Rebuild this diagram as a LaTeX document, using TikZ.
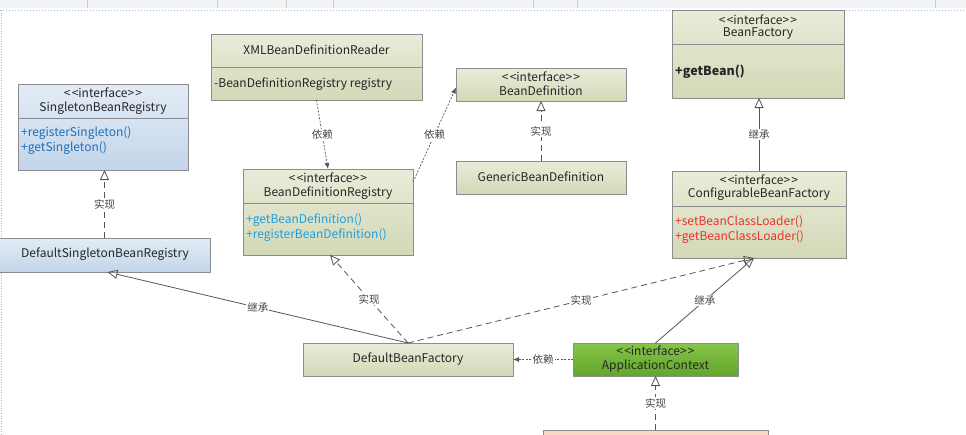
\documentclass[tikz,border=0pt]{standalone}
\usepackage{fontspec}
\setmainfont{Noto Sans CJK SC}
\usetikzlibrary{arrows.meta,calc}
\definecolor{olivetop}{HTML}{E9ECD9}
\definecolor{olivebot}{HTML}{D3D8B7}
\definecolor{bluetop}{HTML}{E3ECF6}
\definecolor{bluebot}{HTML}{C3D5EA}
\definecolor{greentop}{HTML}{86C548}
\definecolor{greenbot}{HTML}{62A62C}
\definecolor{salmon}{HTML}{F7D8C2}
\definecolor{boxline}{HTML}{8C8C8C}
\definecolor{conn}{HTML}{555555}
\definecolor{lbl}{HTML}{444444}
\definecolor{mblue}{HTML}{1F6FB8}
\definecolor{mcyan}{HTML}{1E9FE0}
\definecolor{mred}{HTML}{E8352A}
\definecolor{toolbar}{HTML}{F2F3F5}
\definecolor{dotblue}{HTML}{9DB8D8}
\newcommand{\stereo}{<\kern1.2pt<interface>\kern1.2pt>}
\begin{document}
\begin{tikzpicture}[x=1pt,y=-1pt,
  umlbox/.style={draw=boxline, line width=0.8pt, inner sep=0pt, outer sep=0pt, anchor=north west, top color=olivetop, bottom color=olivebot},
  bluebox/.style={umlbox, top color=bluetop, bottom color=bluebot},
  greenbox/.style={umlbox, top color=greentop, bottom color=greenbot},
  txt/.style={inner sep=0pt, font=\fontsize{12}{14}\selectfont, text=black!85},
  mtxt/.style={txt, anchor=west},
  divider/.style={draw=boxline, line width=0.8pt},
  lab/.style={fill=white, inner sep=1pt, font=\fontsize{10.5}{12}\selectfont, text=lbl},
  inherit/.style={draw=conn, line width=0.8pt, -{Triangle[open, length=10pt, width=9pt]}},
  realize/.style={inherit, dash pattern=on 6pt off 4pt},
  depend/.style={draw=conn, line width=0.7pt, dash pattern=on 2pt off 1.5pt, -{Latex[length=6pt, width=5pt]}}
]
\useasboundingbox (0,0) rectangle (966,434);
% window chrome
\fill[toolbar] (0,0) rectangle (966,8);
\foreach \sx in {87,217,286,333,533,577,935} \draw[black!20] (\sx,0) -- (\sx,8);
\draw[dotblue, line width=1pt, dotted] (0,10) -- (966,10);
\draw[dotblue, line width=0.6pt, dotted] (1,10) -- (1,434);

% ---- boxes ----
\node[bluebox, minimum width=170pt, minimum height=86pt] (sbr) at (18,84) {};
\draw[divider] (18,118) -- (188,118);
\node[txt] (sbrst) at (103,93) {\stereo};
\node[txt] (sbrnm) at (103,108) {SingletonBeanRegistry};
\node[mtxt, text=mblue] (sbrm1) at (21,133) {+registerSingleton()};
\node[mtxt, text=mblue] (sbrm2) at (21,148) {+getSingleton()};

\node[bluebox, minimum width=211pt, minimum height=34pt] (dsbr) at (-1,238) {};
\node[txt] (dsbrnm) at (105,254) {DefaultSingletonBeanRegistry};

\node[umlbox, minimum width=211pt, minimum height=66pt] (xml) at (211,34) {};
\draw[divider] (211,67) -- (422,67);
\node[txt] (xmlnm) at (316.5,50) {XMLBeanDefinitionReader};
\node[mtxt] (xmla) at (214,84) {-BeanDefinitionRegistry registry};

\node[umlbox, minimum width=170pt, minimum height=86pt] (bdr) at (243,169) {};
\draw[divider] (243,203) -- (413,203);
\node[txt] (bdrst) at (328,178) {\stereo};
\node[txt] (bdrnm) at (328,193) {BeanDefinitionRegistry};
\node[mtxt, text=mcyan] (bdrm1) at (246,220) {+getBeanDefinition()};
\node[mtxt, text=mcyan] (bdrm2) at (246,235) {+registerBeanDefinition()};

\node[umlbox, minimum width=170pt, minimum height=33pt] (bd) at (456,68) {};
\node[txt] (bdst) at (541,77) {\stereo};
\node[txt] (bdnm) at (541,91) {BeanDefinition};

\node[umlbox, minimum width=170pt, minimum height=33pt] (gbd) at (456,161) {};
\node[txt] (gbdnm) at (541,177) {GenericBeanDefinition};

\node[umlbox, minimum width=172pt, minimum height=88pt] (bf) at (672,10) {};
\draw[divider] (672,44) -- (844,44);
\node[txt] (bfst) at (758,20) {\stereo};
\node[txt] (bfnm) at (758,34) {BeanFactory};
\node[mtxt, font=\fontsize{12.5}{14}\selectfont\bfseries] (bfm) at (675,72) {+getBean()};

\node[umlbox, minimum width=174pt, minimum height=87pt] (cbf) at (672,171) {};
\draw[divider] (672,206) -- (846,206);
\node[txt] (cbfst) at (759,180) {\stereo};
\node[txt] (cbfnm) at (759,194) {ConfigurableBeanFactory};
\node[mtxt, text=mred] (cbfm1) at (675,222) {+setBeanClassLoader()};
\node[mtxt, text=mred] (cbfm2) at (675,237) {+getBeanClassLoader()};

\node[umlbox, minimum width=210pt, minimum height=33pt] (dbf) at (303,343) {};
\node[txt] (dbfnm) at (408,359) {DefaultBeanFactory};

\node[greenbox, minimum width=165pt, minimum height=33pt] (ac) at (573,343) {};
\node[txt] (acst) at (655.5,351) {\stereo};
\node[txt] (acnm) at (655.5,366) {ApplicationContext};

\node[umlbox, top color=salmon, bottom color=salmon, minimum width=225pt, minimum height=20pt] (impl) at (543,430) {};

% ---- connectors ----
\draw[realize] (dsbr.north) -- node[lab] {实现} (dsbr.north |- sbr.south);
\draw[depend] (xml.south) -- node[lab] {依赖} (bdr.north);
\draw[depend] ([yshift=30pt]bdr.east) -- node[lab] {依赖} ([yshift=-3pt]bd.west);
\draw[realize] (gbd.north) -- node[lab] {实现} (bd.south);
\draw[inherit] (cbf.north) -- node[lab] {继承} (cbf.north |- bf.south);
\draw[inherit] (dbf.north) -- node[lab] {继承} ([xshift=3pt]dsbr.south);
\draw[realize] (dbf.north) -- node[lab] {实现} ([xshift=2pt]bdr.south);
\draw[realize] (dbf.north) -- node[lab] {实现} ([xshift=-5pt]cbf.south);
\draw[inherit] (ac.north) -- node[lab] {继承} ([xshift=-5pt]cbf.south);
\draw[depend] (ac.west) -- node[lab] {依赖} (dbf.east);
\draw[realize] (impl.north) -- node[lab] {实现} (ac.south);
\end{tikzpicture}
\end{document}
